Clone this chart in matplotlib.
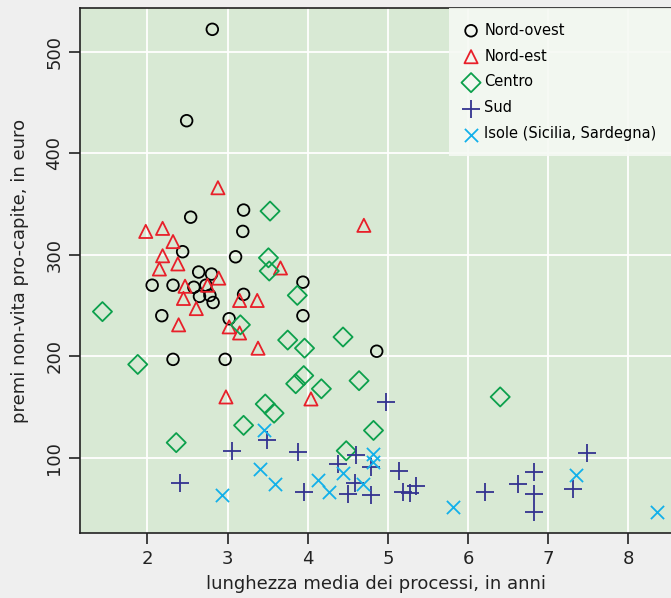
import matplotlib
matplotlib.use("Agg")
import matplotlib.pyplot as plt

# lunghezza media dei processi (anni) / premi non-vita pro-capite (euro)
nord_ovest_x = [2.81, 2.49, 2.54, 3.20, 3.19, 2.44, 3.10, 3.94, 2.64, 2.80, 2.06, 2.32,
                2.58, 2.73, 2.65, 2.78, 2.82, 3.20, 3.94, 2.18, 3.02, 2.32, 2.97, 4.86]
nord_ovest_y = [522, 432, 337, 344, 323, 303, 298, 273, 283, 281, 270, 270,
                268, 270, 259, 260, 253, 261, 240, 240, 237, 197, 197, 205]

nord_est_x = [1.98, 2.19, 2.32, 2.19, 2.38, 2.15, 2.47, 2.75, 2.89, 2.45, 2.61,
              3.15, 3.37, 3.66, 2.39, 3.02, 3.15, 3.38, 2.88, 4.70, 2.98, 4.04]
nord_est_y = [323, 326, 313, 299, 291, 286, 269, 270, 277, 257, 247,
              255, 255, 287, 231, 229, 223, 208, 366, 329, 160, 158]

centro_x = [3.53, 3.51, 3.52, 3.87, 3.75, 3.96, 3.16, 1.88, 1.44, 4.44, 3.85,
            3.95, 4.17, 4.64, 3.47, 3.58, 3.20, 2.36, 4.82, 4.48, 6.40]
centro_y = [343, 297, 284, 260, 216, 208, 231, 192, 244, 219, 173,
            181, 168, 176, 153, 144, 132, 115, 127, 107, 160]

sud_x = [3.06, 3.49, 3.88, 2.41, 3.95, 4.38, 4.60, 4.79, 4.59, 4.50, 4.79, 4.98,
         5.14, 5.19, 5.28, 5.35, 7.48, 6.82, 6.62, 6.21, 6.82, 6.82, 7.31]
sud_y = [107, 118, 106, 75, 66, 94, 103, 91, 75, 64, 63, 155,
         87, 66, 65, 72, 105, 86, 74, 66, 64, 47, 69]

isole_x = [3.45, 3.41, 3.59, 2.93, 4.13, 4.27, 4.44, 4.69, 4.82, 4.82, 5.81, 7.35, 8.35]
isole_y = [127, 89, 74, 63, 78, 66, 85, 74, 104, 96, 52, 83, 47]

x_ticks = [2, 3, 4, 5, 6, 7, 8]
y_ticks = [100, 200, 300, 400, 500]

fig = plt.figure(figsize=(6.71, 5.98), dpi=100, facecolor="#efefef")
ax = fig.add_axes([80 / 671, 65 / 598, 591 / 671, 525 / 598])
ax.set_facecolor("#d8e9d4")

ax.set_xlim(1.16, 8.53)
ax.set_ylim(26, 543)
ax.set_xticks(x_ticks)
ax.set_yticks(y_ticks)
ax.grid(True, color="white", linewidth=1.3)
ax.set_axisbelow(True)

lw = 1.3
ax.scatter(nord_ovest_x, nord_ovest_y, s=70, marker="o", facecolors="none",
           edgecolors="black", linewidths=lw, label="Nord-ovest")
ax.scatter(nord_est_x, nord_est_y, s=90, marker="^", facecolors="none",
           edgecolors="#e8202a", linewidths=lw, label="Nord-est")
ax.scatter(centro_x, centro_y, s=95, marker="D", facecolors="none",
           edgecolors="#0ca04c", linewidths=lw, label="Centro")
ax.scatter(sud_x, sud_y, s=150, marker="+", color="#333390",
           linewidths=lw, label="Sud")
ax.scatter(isole_x, isole_y, s=90, marker="x", color="#12b0ea",
           linewidths=lw, label="Isole (Sicilia, Sardegna)")

ax.spines["right"].set_visible(False)
for side in ["left", "bottom", "top"]:
    ax.spines[side].set_color("#222222")
    ax.spines[side].set_linewidth(1.2)

ax.tick_params(axis="both", direction="out", length=8, width=1.2,
               color="#222222", labelsize=13, labelcolor="#222222", pad=4)
for lab in ax.get_yticklabels():
    lab.set_rotation(90)
    lab.set_va("center")

ax.set_xlabel("lunghezza media dei processi, in anni", fontsize=13,
              color="#222222", labelpad=5)
ax.set_ylabel("premi non-vita pro-capite, in euro", fontsize=13,
              color="#222222", labelpad=12)

leg = ax.legend(loc="upper right", borderaxespad=0, fontsize=10.5,
                frameon=True, fancybox=False, handletextpad=0.4,
                handlelength=1.0, labelspacing=0.75, borderpad=1.0,
                scatterpoints=1)
leg.get_frame().set_facecolor("#f6f9f4")
leg.get_frame().set_edgecolor("none")
leg.get_frame().set_alpha(0.9)

fig.savefig("out.png", dpi=100, facecolor=fig.get_facecolor())
